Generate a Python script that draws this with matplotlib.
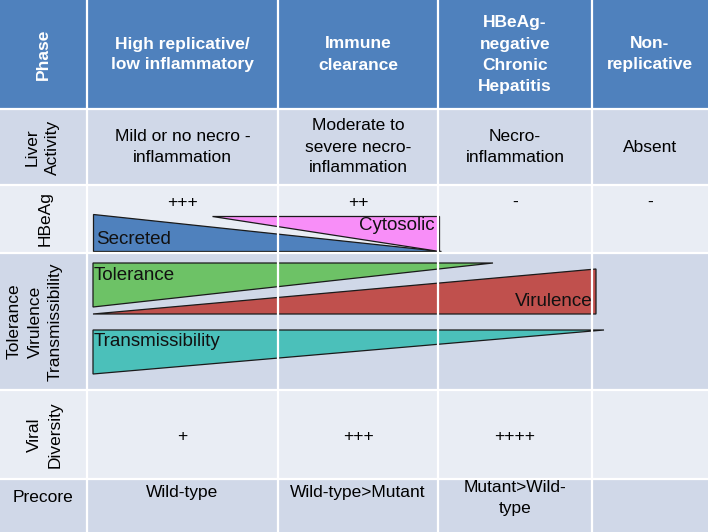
import matplotlib.pyplot as plt
from matplotlib.patches import Rectangle, Polygon

# -------------------------
# 1. DATA
# -------------------------
col_edges = [0, 87, 278, 438, 592, 708]
row_edges = [0, 109, 185, 253, 390, 479, 532]

header = ["Phase", "High replicative/\nlow inflammatory", "Immune\nclearance",
          "HBeAg-\nnegative\nChronic\nHepatitis", "Non-\nreplicative"]

row_labels = ["Liver\nActivity", "HBeAg", "Tolerance\nVirulence\nTransmissibility",
              "Viral\nDiversity", "Precore"]
row_label_x = [42, 45, 35, 45, 43]

liver = ["Mild or no necro -\ninflammation", "Moderate to\nsevere necro-\ninflammation",
         "Necro-\ninflammation", "Absent"]
hbeag = ["+++", "++", "-", "-"]
diversity = ["+", "+++", "++++", ""]
precore = ["Wild-type", "Wild-type>Mutant", "Mutant>Wild-\ntype", ""]

# wedges (triangles) drawn in pixel space of the table
wedges = {
    "Secreted": [(93, 214), (93, 251), (441, 251)],
    "Cytosolic": [(212, 216), (439, 216), (439, 251)],
    "Tolerance": [(93, 263), (493, 263), (93, 307)],
    "Virulence": [(93, 314), (596, 269), (596, 314)],
    "Transmissibility": [(93, 330), (604, 330), (93, 374)],
}
wedge_colors = {
    "Secreted": "#4F81BD",
    "Cytosolic": "#F88EF8",
    "Tolerance": "#6DC266",
    "Virulence": "#C0504D",
    "Transmissibility": "#4BC0BA",
}
wedge_labels = {
    "Secreted": (96, 240, "left"),
    "Cytosolic": (435, 226, "right"),
    "Tolerance": (94, 275, "left"),
    "Virulence": (593, 302, "right"),
    "Transmissibility": (94, 341, "left"),
}

# -------------------------
# 2. PLOT
# -------------------------
plt.rcParams["font.family"] = ["Liberation Sans", "DejaVu Sans"]

fig = plt.figure(figsize=(7.08, 5.32), dpi=100)
ax = fig.add_axes([0, 0, 1, 1])
ax.set_xlim(0, 708)
ax.set_ylim(532, 0)
ax.axis("off")

row_fill = ["#4F81BD", "#D0D8E8", "#E9EDF4", "#D0D8E8", "#E9EDF4", "#D0D8E8"]
for r in range(len(row_edges) - 1):
    y0, y1 = row_edges[r], row_edges[r + 1]
    ax.add_patch(Rectangle((0, y0), 708, y1 - y0, facecolor=row_fill[r],
                           edgecolor="none"))

for x in col_edges[1:-1]:
    ax.plot([x, x], [0, 532], color="white", lw=1.6)
for y in row_edges[1:-1]:
    ax.plot([0, 708], [y, y], color="white", lw=1.6)

def cx(c):
    return (col_edges[c] + col_edges[c + 1]) / 2

def cy(r):
    return (row_edges[r] + row_edges[r + 1]) / 2

# header
for c, txt in enumerate(header):
    ax.text(cx(c), cy(0), txt, ha="center", va="center", color="white",
            fontsize=12.5, fontweight="bold", linespacing=1.5,
            rotation=90 if c == 0 else 0)

# row labels
for r, txt in enumerate(row_labels):
    rot = 0 if txt == "Precore" else 90
    ax.text(row_label_x[r], cy(r + 1) - (8 if txt == "Precore" else 0), txt,
            ha="center", va="center", color="black",
            fontsize=12.5, rotation=rot, linespacing=1.45)

for c, txt in enumerate(liver):
    ax.text(cx(c + 1), cy(1), txt, ha="center", va="center", fontsize=12.5,
            linespacing=1.5)
for c, txt in enumerate(hbeag):
    ax.text(cx(c + 1), 202, txt, ha="center", va="center", fontsize=12.5)
for c, txt in enumerate(diversity):
    ax.text(cx(c + 1), cy(4) + 2, txt, ha="center", va="center", fontsize=12.5)
for c, txt in enumerate(precore):
    multi = "\n" in txt
    ax.text(cx(c + 1), 480 if multi else 493, txt, ha="center",
            va="top" if multi else "center", fontsize=12.5, linespacing=1.5)

for name, verts in wedges.items():
    ax.add_patch(Polygon(verts, closed=True, facecolor=wedge_colors[name],
                         edgecolor="#1a1a1a", lw=0.9))
    lx, ly, ha = wedge_labels[name]
    ax.text(lx, ly, name, ha=ha, va="center", fontsize=13.5, color="#111111")

plt.savefig("out.png", dpi=100)
